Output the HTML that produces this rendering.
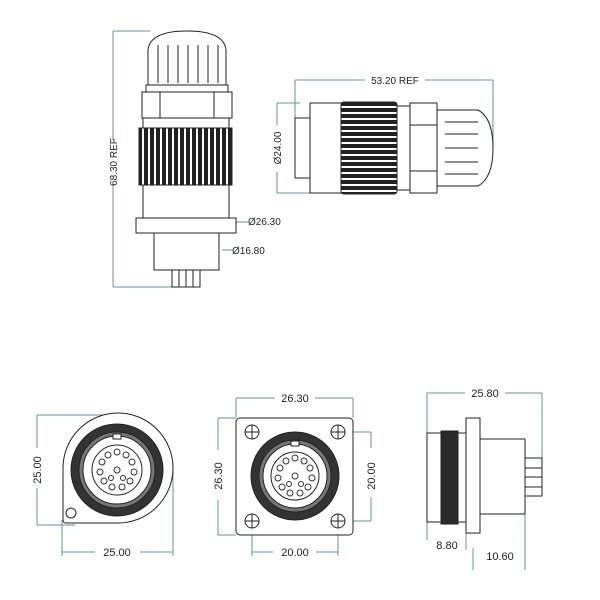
<!DOCTYPE html>
<html><head><style>body{margin:0;background:#fff}svg{display:block}</style></head><body>
<svg width="600" height="600" xmlns="http://www.w3.org/2000/svg" font-family="Liberation Sans, sans-serif">
<defs>
<pattern id="kv" width="6" height="10" patternUnits="userSpaceOnUse"><rect width="6" height="10" fill="#fff"/><rect width="4" height="10" fill="#222"/></pattern>
<pattern id="kh" width="10" height="6" patternUnits="userSpaceOnUse"><rect width="10" height="6" fill="#fff"/><rect width="10" height="4" fill="#222"/></pattern>
</defs>
<g stroke="#5e97a6" stroke-width="1" fill="none">
<path d="M113 31V140M113 185V287M113 31H150M113 287H200"/>
<path d="M295 80H365M425 80H493M295 80V120M493 80V150"/>
<path d="M277 103V125M277 172V193M277 103H300M277 193H310"/>
<path d="M236 222H248M222 250H232M158 250H175M205 250H215"/>
<path d="M37 415V448M37 488V525M37 415H118M37 525H75M62 520V556M173 470V556M62 552H95M140 552H173"/>
<path d="M236 398H275M315 398H353M236 398V418M353 398V418M218 418V450M218 500V535M218 418H236M218 535H236M371 432V448M371 497V521M338 432H371M338 521H371M252 521V556M338 521V556M252 552H273M316 552H338"/>
<path d="M427 393H465M505 393H542M427 393V540M542 393V470M466 530V550M473 548V570M525 514V570M497 439V452M497 500V514"/>
</g>
<g fill="#222" font-size="10">
<text transform="translate(117,162) rotate(-90)" text-anchor="middle">68.30 REF</text>
<text x="395" y="84" text-anchor="middle">53.20 REF</text>
<text transform="translate(281,148) rotate(-90)" text-anchor="middle">Ø24.00</text>
<text x="248" y="225">Ø26.30</text>
<text x="232" y="254">Ø16.80</text>
<text transform="translate(41,470) rotate(-90)" text-anchor="middle" font-size="11">25.00</text>
<text x="117" y="556" text-anchor="middle" font-size="11">25.00</text>
<text x="295" y="402" text-anchor="middle" font-size="11">26.30</text>
<text transform="translate(222,476) rotate(-90)" text-anchor="middle" font-size="11">26.30</text>
<text transform="translate(375,476) rotate(-90)" text-anchor="middle" font-size="11">20.00</text>
<text x="295" y="556" text-anchor="middle" font-size="11">20.00</text>
<text x="485" y="397" text-anchor="middle" font-size="11">25.80</text>
<text transform="translate(501,476) rotate(-90)" text-anchor="middle" font-size="11">Ø16.80</text>
<text x="447" y="549" text-anchor="middle" font-size="11">8.80</text>
<text x="500" y="560" text-anchor="middle" font-size="11">10.60</text>
</g>
<g stroke="#222" stroke-width="1" fill="#fff">
<path d="M148 85V50Q150 31 187 31Q224 31 226 50V85Z"/>
<path d="M158 45V83M168 45V83M178 45V83M188 45V83M198 45V83M208 45V83M218 45V83" fill="none"/>
<rect x="146" y="85" width="82" height="7"/>
<rect x="142" y="92" width="90" height="26"/>
<path d="M160 92V118M214 92V118" fill="none"/>
<rect x="139" y="128" width="93" height="57" fill="url(#kv)"/>
<rect x="143" y="118" width="86" height="10"/>
<rect x="143" y="185" width="86" height="33"/>
<rect x="136" y="218" width="100" height="15"/>
<rect x="154" y="233" width="65" height="37"/>
<rect x="172" y="270" width="28" height="17"/>
<path d="M179 270V287M186 270V287M193 270V287" fill="none"/>
<rect x="295" y="118" width="15" height="60"/>
<rect x="310" y="103" width="33" height="90"/>
<rect x="341" y="102" width="56" height="92" rx="3" fill="url(#kh)"/>
<rect x="397" y="106" width="13" height="84"/>
<rect x="410" y="103" width="27" height="90"/>
<path d="M410 125H437M410 171H437" fill="none"/>
<path d="M437 110H478Q493 118 493 148Q493 178 478 186H437Z"/>
<path d="M445 122H478M445 134H478M445 148H478M445 162H478M445 174H478" fill="none"/>
<!-- bottom left round with square corner -->
<path d="M63 468A55 55 0 1 1 118 523H66Q63 523 63 520Z"/>
<circle cx="71" cy="513" r="5"/>
<circle cx="117" cy="470" r="46" fill="#333"/>
<circle cx="117" cy="470" r="38" fill="#777"/>
<circle cx="117" cy="470" r="34"/>
<circle cx="117" cy="470" r="25"/>
<rect x="113" y="434" width="8" height="5"/>
<rect x="236" y="418" width="117" height="117" rx="4"/>
<g fill="none"><circle cx="252" cy="432" r="7"/><circle cx="338" cy="432" r="7"/><circle cx="252" cy="521" r="7"/><circle cx="338" cy="521" r="7"/>
<path d="M245 432H259M252 425V439M331 432H345M338 425V439M245 521H259M252 514V528M331 521H345M338 514V528"/></g>
<circle cx="295" cy="476" r="44" fill="#333"/>
<circle cx="295" cy="476" r="36" fill="#777"/>
<circle cx="295" cy="476" r="32"/>
<circle cx="295" cy="476" r="24"/>
<rect x="291" y="441" width="8" height="5"/>
<rect x="427" y="433" width="14" height="89"/>
<rect x="441" y="431" width="17" height="93" fill="#2a2a2a"/>
<rect x="458" y="433" width="8" height="89"/>
<rect x="466" y="418" width="14" height="115"/>
<rect x="480" y="439" width="45" height="75"/>
<rect x="525" y="458" width="17" height="38"/>
<path d="M525 468H542M525 477H542M525 487H542" fill="none"/>
</g>
<g fill="none" stroke="#333" stroke-width="1">
<g transform="translate(117,470)"><circle r="3" cy="-18"/><circle r="3" cx="9" cy="-15"/><circle r="3" cx="15" cy="-8"/><circle r="3" cx="17" cy="2"/><circle r="3" cx="13" cy="11"/><circle r="3" cx="5" cy="17"/><circle r="3" cx="-5" cy="17"/><circle r="3" cx="-13" cy="11"/><circle r="3" cx="-17" cy="2"/><circle r="3" cx="-15" cy="-8"/><circle r="3" cx="-9" cy="-15"/><circle r="3"/><circle r="2.5" cx="-6" cy="8"/><circle r="2.5" cx="6" cy="8"/></g>
<g transform="translate(295,476)"><circle r="3" cy="-18"/><circle r="3" cx="9" cy="-15"/><circle r="3" cx="15" cy="-8"/><circle r="3" cx="17" cy="2"/><circle r="3" cx="13" cy="11"/><circle r="3" cx="5" cy="17"/><circle r="3" cx="-5" cy="17"/><circle r="3" cx="-13" cy="11"/><circle r="3" cx="-17" cy="2"/><circle r="3" cx="-15" cy="-8"/><circle r="3" cx="-9" cy="-15"/><circle r="3"/><circle r="2.5" cx="-6" cy="8"/><circle r="2.5" cx="6" cy="8"/></g>
</g>
</svg>
</body></html>
